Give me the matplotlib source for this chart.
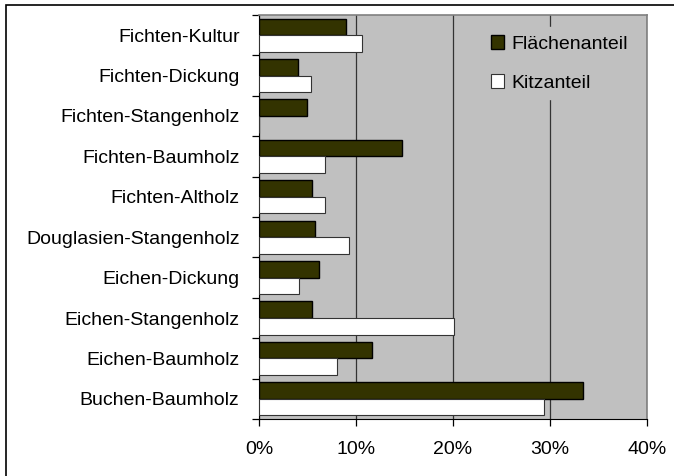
import numpy as np
import matplotlib.pyplot as plt
from matplotlib.patches import Rectangle

plt.rcParams['font.family'] = ['Liberation Sans', 'DejaVu Sans']

categories = ['Fichten-Kultur', 'Fichten-Dickung', 'Fichten-Stangenholz',
              'Fichten-Baumholz', 'Fichten-Altholz', 'Douglasien-Stangenholz',
              'Eichen-Dickung', 'Eichen-Stangenholz', 'Eichen-Baumholz',
              'Buchen-Baumholz']
flaeche = [9.0, 4.0, 4.9, 14.7, 5.5, 5.8, 6.2, 5.5, 11.6, 33.4]
kitz = [10.6, 5.4, 0.0, 6.8, 6.8, 9.3, 4.1, 20.1, 8.0, 29.4]
xticks = [0, 10, 20, 30, 40]

W, H = 674, 476
fs = 14
fig = plt.figure(figsize=(W / 100, H / 100), dpi=100)
ax = fig.add_axes([259 / W, 1 - 419 / H, (647 - 259) / W, (419 - 15) / H])

# outer frame of the chart object (right/bottom edges fall outside the image)
fig.patches.append(Rectangle((6 / W, -0.1), 1.1, 1 - 5 / H + 0.1,
                             transform=fig.transFigure, fill=False,
                             edgecolor='black', linewidth=1.2))

n = len(categories)
pos = np.arange(n)
h = 0.41
ax.barh(pos - h / 2, flaeche, height=h, color='#333300', edgecolor='black',
        linewidth=1.0, label='Flächenanteil', zorder=3)
ax.barh(pos + h / 2, kitz, height=h, color='white', edgecolor='#333333',
        linewidth=0.8, label='Kitzanteil', zorder=3)

ax.set_facecolor('#c0c0c0')
ax.set_xlim(0, 40)
ax.set_ylim(n - 0.5, -0.5)
ax.set_xticks(xticks)
ax.set_xticklabels([f'{v}%' for v in xticks], fontsize=fs)
ax.xaxis.grid(True, color='#333333', linewidth=0.9, zorder=1)
ax.set_axisbelow(True)

ax.set_yticks(pos)
ax.set_yticklabels(categories, fontsize=fs)
ax.tick_params(axis='y', length=0, pad=14)
ax.set_yticks(np.arange(n + 1) - 0.5, minor=True)
ax.tick_params(axis='y', which='minor', length=5, direction='out', width=0.9)
ax.tick_params(axis='x', length=5, direction='out', width=0.9, pad=11)

for side in ['top', 'right']:
    ax.spines[side].set_color('#808080')
    ax.spines[side].set_linewidth(1.2)
ax.spines['left'].set_color('black')
ax.spines['bottom'].set_color('black')

leg = ax.legend(loc='upper left', bbox_to_anchor=(0.577, 0.97), frameon=True,
                fontsize=fs, handlelength=0.7, handleheight=0.7,
                labelspacing=1.1, handletextpad=0.35, borderpad=0.4,
                borderaxespad=0, fancybox=False)
leg.get_frame().set_facecolor('#c0c0c0')
leg.get_frame().set_edgecolor('#c0c0c0')
leg.get_frame().set_alpha(1)
leg.set_zorder(5)

fig.savefig('out.png', dpi=100)
